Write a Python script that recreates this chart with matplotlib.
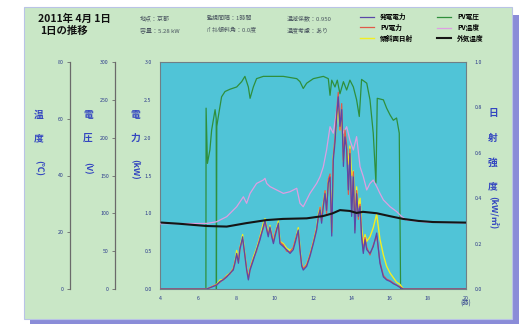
import matplotlib
matplotlib.use("Agg")
import matplotlib.pyplot as plt
from matplotlib.patches import Rectangle

plt.rcParams['font.family'] = ['Noto Sans CJK JP', 'DejaVu Sans']

# ---------------- data ----------------
x_ticks = [4, 6, 8, 10, 12, 14, 16, 18, 20]
power_ticks = [0.0, 0.5, 1.0, 1.5, 2.0, 2.5, 3.0]
volt_ticks = [0, 50, 100, 150, 200, 250, 300]
temp_ticks = [0, 20, 40, 60, 80]
irr_ticks = [0.0, 0.2, 0.4, 0.6, 0.8, 1.0]

legend_labels = ["発電電力", "PV電力", "傾斜面日射", "PV電圧", "PV温度", "外気温度"]

# low series time base (hours)
hours_low = [4.0, 6.44, 6.96, 7.14, 7.31, 7.49, 7.66, 7.83, 7.92, 8.01, 8.10, 8.18, 8.32,
             8.44, 8.53, 8.62, 8.71, 8.88, 9.05, 9.23, 9.40, 9.49, 9.58, 9.66, 9.75,
             9.84, 9.93, 10.01, 10.10, 10.19, 10.27, 10.45, 10.62, 10.80, 10.97, 11.15,
             11.23, 11.32, 11.41, 11.49, 11.67, 11.84, 12.02, 12.19, 12.28, 12.37,
             12.45, 12.54, 12.63, 12.71, 12.80, 12.89, 12.98, 13.06, 13.15, 13.24,
             13.32, 13.41, 13.50, 13.59, 13.67, 13.76, 13.85, 13.93, 14.02, 14.11,
             14.19, 14.28, 14.37, 14.46, 14.54, 14.63, 14.72, 14.81, 14.98, 15.15,
             15.33, 15.50, 15.68, 15.85, 16.03, 16.20, 16.37, 16.55, 16.72, 20.0]

# 発電電力 (kW)
gen_power = [0, 0, 0.05, 0.10, 0.12, 0.16, 0.21, 0.25, 0.34, 0.47, 0.34, 0.52, 0.69,
             0.43, 0.25, 0.12, 0.25, 0.38, 0.52, 0.65, 0.82, 0.91, 0.78, 0.69, 0.82,
             0.69, 0.60, 0.69, 0.78, 0.87, 0.60, 0.56, 0.52, 0.47, 0.52, 0.69,
             0.78, 0.52, 0.30, 0.25, 0.30, 0.43, 0.60, 0.78, 0.96, 1.04,
             0.87, 1.09, 1.26, 1.04, 1.40, 1.48, 0.70, 1.70, 1.93, 2.28,
             2.54, 2.15, 2.37, 1.62, 2.01, 1.84, 1.31, 1.79, 0.96, 1.48,
             0.74, 1.26, 0.96, 1.09, 0.69, 0.47, 0.65, 0.52, 0.47, 0.56,
             0.74, 0.34, 0.16, 0.12, 0.10, 0.07, 0.05, 0.02, 0, 0]

# PV電力 (kW)
pv_power = [0, 0, 0.06, 0.09, 0.13, 0.17, 0.20, 0.27, 0.36, 0.45, 0.36, 0.55, 0.66,
            0.45, 0.27, 0.14, 0.27, 0.40, 0.50, 0.68, 0.80, 0.88, 0.80, 0.72, 0.80,
            0.72, 0.62, 0.72, 0.80, 0.84, 0.62, 0.58, 0.50, 0.49, 0.55, 0.72,
            0.76, 0.50, 0.32, 0.27, 0.32, 0.45, 0.62, 0.80, 0.94, 1.08,
            0.90, 1.12, 1.30, 1.00, 1.45, 1.52, 0.75, 1.75, 2.00, 2.35,
            2.60, 2.10, 2.45, 1.70, 2.10, 1.90, 1.25, 1.85, 1.00, 1.55,
            0.78, 1.30, 0.92, 1.12, 0.72, 0.50, 0.68, 0.55, 0.45, 0.58,
            0.70, 0.36, 0.18, 0.13, 0.11, 0.08, 0.05, 0.03, 0, 0]

# 傾斜面日射 (kW/m2)
irradiance = [0, 0, 0.02, 0.04, 0.04, 0.06, 0.07, 0.09, 0.12, 0.17, 0.12, 0.18, 0.24,
              0.15, 0.09, 0.05, 0.09, 0.14, 0.18, 0.23, 0.29, 0.31, 0.27, 0.24, 0.28,
              0.24, 0.21, 0.24, 0.27, 0.30, 0.21, 0.20, 0.18, 0.17, 0.18, 0.24,
              0.27, 0.18, 0.11, 0.09, 0.11, 0.15, 0.21, 0.27, 0.33, 0.36,
              0.30, 0.38, 0.43, 0.36, 0.48, 0.50, 0.25, 0.58, 0.65, 0.74,
              0.80, 0.70, 0.76, 0.56, 0.66, 0.62, 0.55, 0.63, 0.50, 0.52,
              0.30, 0.45, 0.36, 0.40, 0.27, 0.20, 0.24, 0.21, 0.23, 0.27,
              0.33, 0.22, 0.15, 0.10, 0.07, 0.05, 0.03, 0.02, 0, 0]

# PV電圧 (V)
hours_volt = [4.0, 6.40, 6.41, 6.48, 6.61, 6.70, 6.88, 6.94, 6.95, 6.97, 7.05, 7.22,
              7.40, 7.66, 8.01, 8.27, 8.44, 8.62, 8.71, 8.88, 9.05, 9.40, 9.75,
              10.45, 11.15, 11.32, 11.49, 11.67, 12.02, 12.54, 12.80, 12.89, 12.98,
              13.15, 13.27, 13.41, 13.59, 13.76, 13.93, 14.11, 14.28, 14.42, 14.54,
              14.81, 14.98, 15.15, 15.29, 15.36, 15.68, 15.85, 16.03, 16.20, 16.37,
              16.51, 16.58, 20.0]
pv_voltage = [0, 0, 239, 166, 184, 210, 237, 225, 0, 215, 228, 254,
              261, 264, 267, 274, 281, 267, 252, 267, 278, 281, 281,
              281, 278, 274, 265, 272, 278, 281, 278, 256, 276,
              267, 276, 258, 274, 263, 276, 267, 250, 228, 277,
              272, 250, 206, 140, 252, 250, 239, 230, 223, 226,
              206, 0, 0]

# PV温度 (deg C)
hours_pvt = [4.0, 6.44, 6.96, 7.49, 8.01, 8.36, 8.53, 8.71, 9.05, 9.40, 9.49, 9.58,
             9.75, 10.10, 10.45, 10.80, 11.15, 11.32, 11.49, 11.67, 11.84, 12.19,
             12.37, 12.54, 12.71, 12.89, 13.06, 13.24, 13.32, 13.41, 13.59, 13.76,
             13.93, 14.11, 14.28, 14.46, 14.63, 14.81, 14.98, 15.15, 15.33, 15.50,
             15.68, 16.03, 16.37, 16.64, 16.90, 18.0, 20.0]
pv_temp = [23.0, 23.1, 23.7, 25.5, 29.0, 32.5, 30.2, 33.7, 37.2, 38.4, 39.0, 37.2,
           36.1, 34.9, 33.7, 34.3, 35.5, 30.2, 29.0, 31.4, 33.7, 37.2,
           39.6, 43.1, 49.0, 57.2, 54.9, 63.1, 67.8, 60.7, 54.9, 57.2,
           52.5, 49.0, 53.7, 43.1, 39.6, 34.9, 37.2, 38.4, 36.1, 33.7,
           31.4, 29.0, 27.3, 25.5, 24.3, 23.5, 23.3]

# 外気温度 (deg C)
hours_air = [4.09, 5.0, 6.44, 7.49, 8.5, 9.58, 10.43, 11.67, 12.52, 13.0, 13.41, 13.93,
             14.28, 14.61, 15.33, 16.0, 16.71, 17.5, 18.27, 19.95]
air_temp = [23.4, 23.0, 22.2, 22.0, 23.2, 24.3, 24.7, 24.9, 25.7, 26.6, 27.8, 27.5,
            26.8, 27.2, 26.7, 25.7, 24.7, 24.0, 23.6, 23.4]

# ---------------- layout helpers (pixels -> figure fraction) ----------------
W, H = 531, 324
def fx(px):
    return px / W
def fy(py):
    return 1 - py / H

fig = plt.figure(figsize=(W / 100, H / 100), dpi=100)
fig.patch.set_facecolor("white")

# shadow + green panel
fig.add_artist(Rectangle((fx(30), fy(324)), fx(519) - fx(30), fy(15) - fy(324),
                         transform=fig.transFigure, facecolor="#8a8cd8",
                         edgecolor="none", zorder=-3))
fig.add_artist(Rectangle((fx(24), fy(319)), fx(512) - fx(24), fy(7) - fy(319),
                         transform=fig.transFigure, facecolor="#c9e7c6",
                         edgecolor="#b9c3e6", linewidth=0.8, zorder=-2))

bg_cyan = "#50c4d7"
tick_col = "#2b3a8c"
spine_col = "#6f7f86"
title_blue = "#3346c0"

ax = fig.add_axes([fx(160), fy(289), fx(466) - fx(160), fy(62) - fy(289)])
ax.set_facecolor(bg_cyan)
ax.set_xlim(4, 20)
ax.set_ylim(0, 3.0)
ax.set_xticks(x_ticks)
ax.set_xticklabels([str(v) for v in x_ticks])
ax.set_yticks(power_ticks)
ax.set_yticklabels(["%.1f" % v for v in power_ticks])
for s in ax.spines.values():
    s.set_color(spine_col)
    s.set_linewidth(0.8)
ax.tick_params(axis="both", labelsize=3.8, labelcolor=tick_col, length=0, pad=5)
ax.tick_params(axis="y", pad=6)

ax_r = ax.twinx()
ax_r.set_ylim(0, 1.0)
ax_r.set_yticks(irr_ticks)
ax_r.set_yticklabels(["%.1f" % v for v in irr_ticks])
ax_r.tick_params(axis="y", labelsize=3.8, labelcolor=tick_col, length=0, pad=6)
for s in ax_r.spines.values():
    s.set_visible(False)

def side_axis(pos_px, lim, ticks):
    a = ax.twinx()
    a.set_ylim(*lim)
    a.spines["left"].set_position(("axes", (pos_px - 160) / 306.0))
    a.spines["left"].set_visible(True)
    a.spines["left"].set_color("#6a6a6a")
    a.spines["left"].set_linewidth(0.9)
    for s in ["top", "right", "bottom"]:
        a.spines[s].set_visible(False)
    a.yaxis.set_ticks_position("left")
    a.yaxis.set_label_position("left")
    a.set_yticks(ticks)
    a.set_yticklabels([str(v) for v in ticks])
    a.tick_params(axis="y", labelsize=3.8, labelcolor=tick_col, color="#6a6a6a",
                  length=2.5, width=0.6, pad=2)
    return a

ax_v = side_axis(115, (0, 300), volt_ticks)
ax_t = side_axis(70, (0, 80), temp_ticks)

# ---------------- lines (all on main axes, through each scale's transform) ----------------
l_volt, = ax.plot(hours_volt, pv_voltage, color="#2f8f3c", lw=0.9,
                  transform=ax_v.transData, zorder=2)
l_pvt, = ax.plot(hours_pvt, pv_temp, color="#dd9fe2", lw=0.9,
                 transform=ax_t.transData, zorder=3)
l_irr, = ax.plot(hours_low, irradiance, color="#f2ee22", lw=1.0,
                 transform=ax_r.transData, zorder=4)
l_pv, = ax.plot(hours_low, pv_power, color="#e05a4a", lw=0.9, zorder=5)
l_gen, = ax.plot(hours_low, gen_power, color="#5a48a8", lw=0.9, zorder=6)
l_air, = ax.plot(hours_air, air_temp, color="#151515", lw=1.5,
                 transform=ax_t.transData, zorder=7)
ax.set_xlim(4, 20)
ax.set_ylim(0, 3.0)

# ---------------- legend ----------------
fig.legend([l_gen, l_pv, l_irr, l_volt, l_pvt, l_air], legend_labels, ncol=2,
           loc="upper left", bbox_to_anchor=(fx(360), fy(13)), frameon=False,
           prop={"size": 4.8, "weight": "bold"}, handlelength=2.1, handletextpad=0.9,
           columnspacing=3.6, labelspacing=0.55, borderpad=0, borderaxespad=0)

# ---------------- texts ----------------
fig.text(fx(38), fy(19), "2011年 4月 1日", fontsize=7.5, fontweight="bold",
         color="#111111", va="center", ha="left")
fig.text(fx(40), fy(31), "1日の推移", fontsize=7.5, fontweight="bold",
         color="#111111", va="center", ha="left")

info_col = "#4a5560"
fig.text(fx(140), fy(18), "地点：京都", fontsize=4.3, color=info_col, va="center")
fig.text(fx(140), fy(30), "容量：5.28 kW", fontsize=4.3, color=info_col, va="center")
fig.text(fx(207), fy(18), "監視間隔：1時間", fontsize=4.3, color=info_col, va="center")
fig.text(fx(207), fy(30), "ﾊﾟﾈﾙ傾斜角：0.0度", fontsize=4.3, color=info_col, va="center")
fig.text(fx(287), fy(18), "温減係数：0.950", fontsize=4.3, color=info_col, va="center")
fig.text(fx(287), fy(30), "温度考慮：あり", fontsize=4.3, color=info_col, va="center")

def vlabel(xpx, chars, ys, unit, yunit):
    for c, yy in zip(chars, ys):
        fig.text(fx(xpx), fy(yy), c, fontsize=7, fontweight="bold", color=title_blue,
                 ha="center", va="center")
    fig.text(fx(xpx), fy(yunit), unit, fontsize=6.5, fontweight="bold",
             color=title_blue, ha="center", va="center", rotation=-90)

vlabel(39, ["温", "度"], [115, 138], "(℃)", 168)
vlabel(88, ["電", "圧"], [115, 138], "(V)", 168)
vlabel(135, ["電", "力"], [115, 138], "(kW)", 169)
vlabel(493, ["日", "射", "強", "度"], [113, 138, 163, 186], "(kW/㎡)", 213)

fig.text(fx(466), fy(304), "(時)", fontsize=4.5, color=tick_col, ha="center", va="center")

fig.savefig("out.png", dpi=100, facecolor="white")
